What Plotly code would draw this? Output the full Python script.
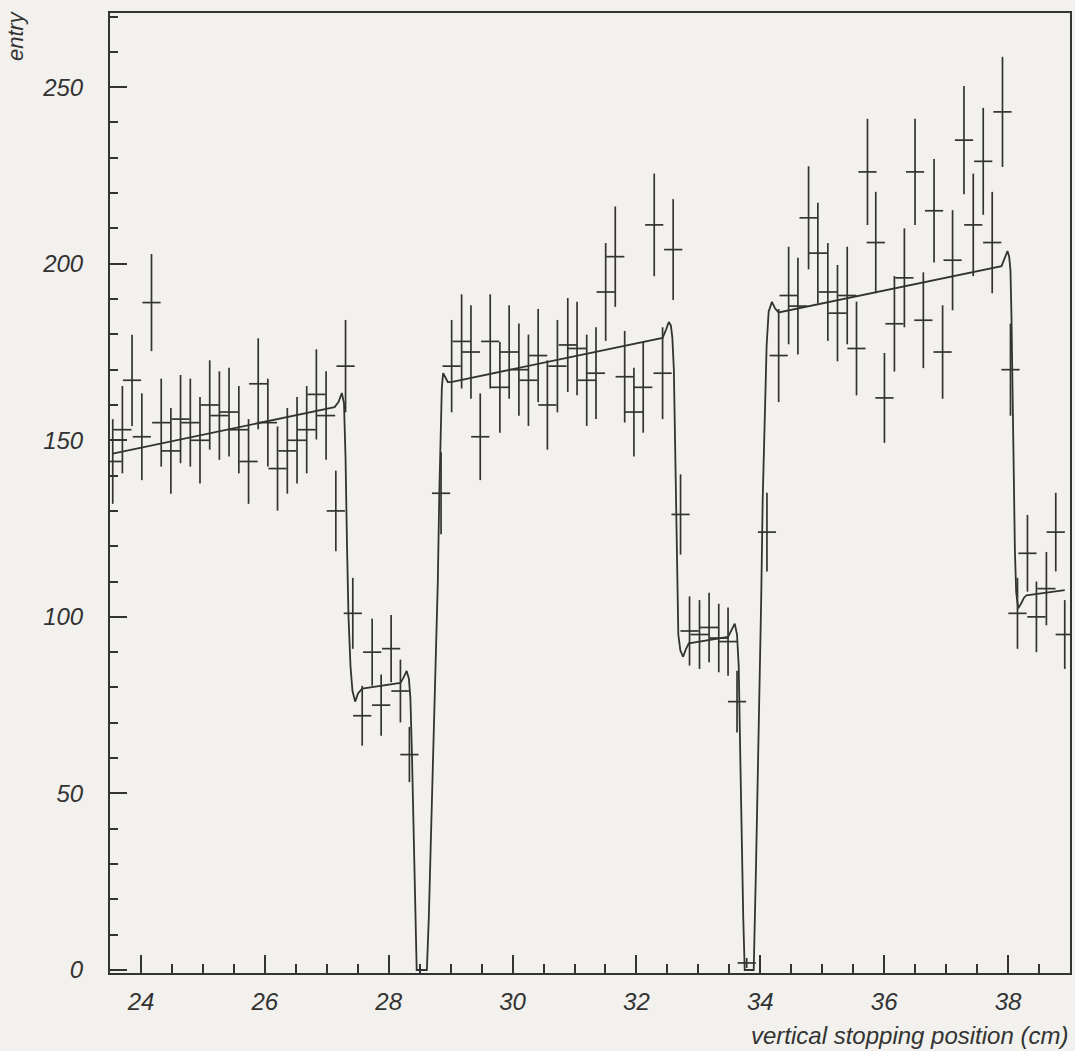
import plotly.graph_objects as go

# Stopping-position histogram (counts per bin) with Poisson error bars
pos_cm = [
    23.544, 23.700, 23.856, 24.014, 24.170, 24.327, 24.483, 24.639, 24.797, 24.953,
    25.110, 25.266, 25.422, 25.580, 25.737, 25.893, 26.049, 26.205, 26.363, 26.520,
    26.676, 26.832, 26.989, 27.146, 27.303,
    27.420, 27.572, 27.733, 27.878, 28.039, 28.189, 28.334,
    28.845, 29.016, 29.177, 29.328, 29.478, 29.639, 29.795, 29.945, 30.102, 30.256,
    30.413, 30.562, 30.724, 30.891, 31.041, 31.197, 31.347, 31.503, 31.658, 31.810,
    31.959, 32.109, 32.287, 32.422, 32.593,
    32.712, 32.857, 33.018, 33.173, 33.329, 33.479, 33.624, 33.780,
    34.107, 34.296, 34.457, 34.607, 34.779, 34.929, 35.090, 35.246, 35.403, 35.553,
    35.730, 35.864, 36.004, 36.165, 36.326, 36.498, 36.632, 36.805, 36.943, 37.104,
    37.288, 37.438, 37.599, 37.744, 37.910, 38.039,
    38.152, 38.313, 38.458, 38.619, 38.770, 38.915,
]
entries = [
    144, 153, 167, 151, 189, 155, 147, 156, 155, 150,
    160, 157, 158, 153, 144, 166, 155, 142, 147, 150,
    153, 163, 157, 130, 171,
    101, 72, 90, 75, 91, 79, 61,
    135, 171, 178, 175, 151, 178, 165, 175, 170, 167,
    174, 160, 171, 177, 176, 167, 169, 192, 202, 168,
    158, 165, 211, 169, 204,
    129, 96, 95, 97, 94, 93, 76, 2,
    124, 174, 191, 188, 213, 203, 192, 186, 191, 176,
    226, 206, 162, 183, 196, 226, 184, 215, 175, 201,
    235, 211, 229, 206, 243, 170,
    101, 118, 100, 108, 124, 95,
]

# Fitted function sampled along the position axis
fit_x = [
    23.544, 27.125, 27.190, 27.243, 27.278, 27.303, 27.327, 27.351, 27.383, 27.415,
    27.459, 27.504, 27.572, 28.189, 28.245, 28.290, 28.326, 28.350, 28.374, 28.398,
    28.431, 28.452, 28.616, 28.648, 28.684, 28.721, 28.764, 28.793, 28.817, 28.838,
    28.858, 28.879, 28.914, 28.954, 29.006, 32.422, 32.475, 32.523, 32.556, 32.580,
    32.604, 32.623, 32.639, 32.652, 32.676, 32.709, 32.754, 32.797, 32.846, 33.479,
    33.538, 33.587, 33.624, 33.651, 33.679, 33.700, 33.724, 33.748, 33.893, 33.930,
    33.957, 33.985, 34.014, 34.038, 34.070, 34.102, 34.135, 34.188, 34.239, 34.296,
    37.894, 37.945, 37.991, 38.018, 38.039, 38.055, 38.070, 38.082, 38.110, 38.131,
    38.163, 38.211, 38.260, 38.297, 38.915,
]
fit_y = [
    146.2, 159.4, 160.8, 163.4, 160.5, 145.0, 120.0, 100.0, 86.0, 79.0,
    76.0, 78.3, 79.7, 81.3, 83.0, 84.7, 82.5, 77.0, 62.0, 45.0,
    20.0, 0.0, 0.0, 15.0, 39.0, 62.0, 86.0, 110.0, 135.0, 155.0,
    165.0, 169.0, 168.0, 166.5, 166.5, 179.0, 181.2, 183.5, 182.5, 179.0,
    170.0, 150.0, 125.0, 108.0, 95.0, 90.5, 88.7, 90.8, 92.5, 94.3,
    96.3, 98.1, 95.0, 86.0, 58.0, 35.0, 15.0, 0.0, 0.0, 29.0,
    52.0, 76.0, 105.0, 133.0, 157.0, 177.0, 186.5, 189.2, 187.3, 186.2,
    199.3, 201.6, 203.6, 202.0, 198.0, 185.0, 165.0, 147.0, 119.0, 107.0,
    102.4, 103.8, 105.5, 106.1, 107.6,
]

x_ticks = [24, 26, 28, 30, 32, 34, 36, 38]
y_ticks = [0, 50, 100, 150, 200, 250]

INK = "#333333"
PAPER = "#f2f1ed"
FONT = "Liberation Sans, Arial, sans-serif"

fig = go.Figure()

fig.add_trace(go.Scatter(
    x=fit_x, y=fit_y, mode="lines",
    line=dict(color=INK, width=1.8),
    hoverinfo="skip", showlegend=False,
))

fig.add_trace(go.Scatter(
    x=pos_cm, y=entries, mode="markers",
    marker=dict(symbol="line-ew-open", size=13, color=INK,
                line=dict(width=1.7, color=INK)),
    error_y=dict(type="sqrt", visible=True, width=0, thickness=1.7, color=INK),
    showlegend=False,
))

axis_font = dict(family=FONT, size=24, color=INK, style="italic")

fig.update_xaxes(
    range=[23.5, 39.0],
    tickmode="array", tickvals=x_ticks, ticktext=[str(v) for v in x_ticks],
    ticks="inside", ticklen=18, tickwidth=1.5, tickcolor=INK,
    minor=dict(dtick=0.5, tick0=23.5, ticks="inside", ticklen=9,
               tickwidth=1.5, tickcolor=INK, showgrid=False),
    showline=True, linecolor=INK, linewidth=2, mirror=True,
    showgrid=False, zeroline=False,
    tickfont=axis_font, ticklabelstandoff=6,
)
fig.update_yaxes(
    range=[-0.85, 271],
    tickmode="array", tickvals=y_ticks, ticktext=[str(v) for v in y_ticks],
    ticks="inside", ticklen=17, tickwidth=1.5, tickcolor=INK,
    minor=dict(dtick=10, tick0=0, ticks="inside", ticklen=8,
               tickwidth=1.5, tickcolor=INK, showgrid=False),
    showline=True, linecolor=INK, linewidth=2, mirror=True,
    showgrid=False, zeroline=False,
    tickfont=axis_font, ticklabelstandoff=20,
)

fig.add_annotation(
    text="entry", xref="paper", yref="paper",
    x=-0.099, y=0.977, textangle=-90, showarrow=False,
    xanchor="center", yanchor="middle",
    font=dict(family=FONT, size=22, color=INK, style="italic"),
)
fig.add_annotation(
    text="vertical stopping position (cm)", xref="paper", yref="paper",
    x=1.0, y=-0.065, showarrow=False,
    xanchor="right", yanchor="middle",
    font=dict(family=FONT, size=24, color=INK, style="italic"),
)

fig.update_layout(
    width=1075, height=1051,
    margin=dict(l=110, r=3, t=13, b=78),
    paper_bgcolor=PAPER, plot_bgcolor=PAPER,
)

fig.write_html("out.html")
